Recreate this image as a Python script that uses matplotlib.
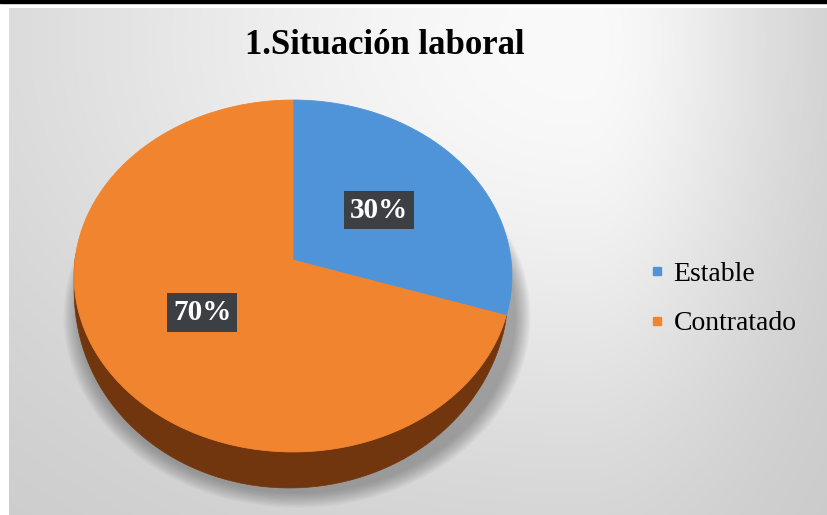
import numpy as np
import matplotlib.pyplot as plt
from matplotlib.patches import Polygon, Rectangle
from matplotlib.lines import Line2D

title = "1.Situación laboral"
categories = ["Estable", "Contratado"]
values = [30, 70]
colors = ["#4f94d9", "#f0842f"]
side_colors = ["#2c5d8f", "#72360f"]

W, H = 827, 515

# pie geometry in pixels, with a mild perspective (front looks bigger)
CX, CY = 293, 260
A, B = 218, 174.5
K = 0.0909
DEPTH = 33
# part of the rim that shows a wall (degrees, counter-clockwise)
RIM_FROM, RIM_TO = 178.0, 342.0


def project(theta, r=1.0, drop=0.0):
    u = r * np.cos(theta)
    v = r * np.sin(theta)
    s = 1.0 / (1.0 + K * v)
    return CX + A * u * s, CY - B * v * s + drop * s


def arc(t0, t1, r=1.0, drop=0.0, n=240):
    t = np.radians(np.linspace(t0, t1, n))
    x, y = project(t, r, drop)
    return np.column_stack([x, y])


def wall_drop(t_deg):
    # wall height fades out toward both ends of the visible rim
    phase = (np.asarray(t_deg) - RIM_FROM) / (RIM_TO - RIM_FROM) * np.pi
    return DEPTH * np.sqrt(np.clip(np.sin(phase), 0, 1))


fig = plt.figure(figsize=(W / 100, H / 100), dpi=100)
ax = fig.add_axes([0, 0, 1, 1])
ax.set_xlim(0, W)
ax.set_ylim(H, 0)
ax.axis("off")

# soft radial backdrop, brightest behind the title
xx, yy = np.meshgrid(np.arange(9, W), np.arange(8, H))
rx = np.where(xx < 580, 590.0, 210.0)
d2 = ((xx - 580) / rx) ** 2 + ((yy - 40) / 423.0) ** 2
shade = 200 + 50 * np.exp(-d2)
bg = np.dstack([shade, shade, shade]) / 255.0
ax.imshow(bg, extent=[9, W, H, 8], zorder=0, interpolation="bilinear")
ax.add_patch(Rectangle((0, 0), W, 2.5, color="black", zorder=1))

# drop shadow under the pie
for i in range(12):
    pts = arc(0, 360, r=1.0 + 0.006 * i, drop=DEPTH + 2)
    pts[:, 0] += 4
    pts[:, 1] += 3
    ax.add_patch(Polygon(pts, closed=True, fc="#404040", ec="none",
                         alpha=0.04, zorder=2))

total = float(sum(values))
start = 90.0
slices = []
for val in values:
    end = start - 360.0 * val / total
    slices.append((start, end))
    start = end

# side walls
for (t0, t1), sc in zip(slices, side_colors):
    lo = min(t0, t1) % 360
    hi = lo + abs(t0 - t1)
    for shift in (-360, 0, 360):
        a0, a1 = max(lo + shift, RIM_FROM), min(hi + shift, RIM_TO)
        if a1 <= a0:
            continue
        t = np.linspace(a0, a1, 240)
        x, y = project(np.radians(t))
        xb, yb = project(np.radians(t), drop=wall_drop(t))
        pts = np.vstack([np.column_stack([x, y]),
                         np.column_stack([xb, yb])[::-1]])
        ax.add_patch(Polygon(pts, closed=True, fc=sc, ec=sc, lw=0.5,
                             zorder=3))

# top faces
for (t0, t1), c in zip(slices, colors):
    pts = np.vstack([[CX, CY], arc(t0, t1)])
    ax.add_patch(Polygon(pts, closed=True, fc=c, ec=c, lw=0.6, zorder=4))

# percentage labels
for (t0, t1), val in zip(slices, values):
    mid = np.radians((t0 + t1) / 2)
    lx, ly = project(mid, r=0.5)
    ax.text(lx, ly, f"{val / total:.0%}", ha="center", va="center",
            fontsize=21, fontweight="bold", color="white",
            family=["Liberation Serif", "DejaVu Serif"], zorder=6,
            bbox=dict(boxstyle="square,pad=0.2", fc="#3c3f44", ec="none"))

ax.text(385, 45, title, ha="center", va="center", fontsize=25,
        fontweight="bold", family=["Liberation Serif", "DejaVu Serif"],
        color="black", zorder=6)

handles = [Line2D([], [], ls="none", marker="s", markersize=6,
                  mfc=c, mec=c) for c in colors]
leg = ax.legend(handles, categories, loc="center left",
                bbox_to_anchor=(650 / W, 1 - 299 / H),
                frameon=False, handlelength=0.5, handletextpad=0.35,
                labelspacing=0.85, borderpad=0, borderaxespad=0,
                prop={"family": ["Liberation Serif", "DejaVu Serif"],
                      "size": 20})

fig.savefig("out.png", dpi=100, facecolor="white")
